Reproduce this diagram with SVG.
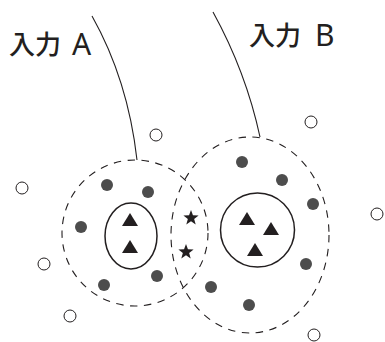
<svg xmlns="http://www.w3.org/2000/svg" xmlns:xlink="http://www.w3.org/1999/xlink" width="385" height="342" viewBox="0 0 385 342">
<style>
.bg{fill:#ffffff}
.dash{fill:none;stroke:#231f20;stroke-width:1.1;stroke-dasharray:7.5 6.5}
.inner{fill:none;stroke:#231f20;stroke-width:1.5}
.dot{fill:#4d4d4d}
.open{fill:#ffffff;stroke:#231f20;stroke-width:1}
.tri{fill:#231f20}
.star{fill:#231f20}
.line{fill:none;stroke:#231f20;stroke-width:1.1}
.lbl{font-family:"Noto Sans CJK JP","Noto Sans",sans-serif;font-size:26px;font-weight:500;fill:#231f20}
.lat{font-family:"Noto Sans","Liberation Sans",sans-serif;font-size:30px;font-weight:400}
</style>
<defs>
<path id="tri" d="M0,0 L8,13 L-8,13 Z"/>
<polygon id="star" points="0,-8 1.94,-2.68 7.61,-2.47 3.15,1.03 4.7,6.47 0,3.3 -4.7,6.47 -3.15,1.03 -7.61,-2.47 -1.94,-2.68"/>
</defs>
<rect class="bg" x="0" y="0" width="385" height="342"/>

<g id="setA">
<circle class="dash" cx="135" cy="233" r="73"/>
</g>
<g id="setB">
<ellipse class="dash" cx="250" cy="235" rx="79" ry="98"/>
</g>

<g id="coreA">
<ellipse class="inner" cx="131" cy="236" rx="26" ry="33"/>
<use href="#tri" class="tri" x="130" y="213"/>
<use href="#tri" class="tri" x="130" y="240"/>
</g>

<g id="coreB">
<circle class="inner" cx="257.5" cy="230" r="37"/>
<use href="#tri" class="tri" x="247" y="212"/>
<use href="#tri" class="tri" x="271" y="222"/>
<use href="#tri" class="tri" x="255" y="243"/>
</g>

<g id="dotsA">
<circle class="dot" cx="107" cy="185" r="6"/>
<circle class="dot" cx="148" cy="192" r="6"/>
<circle class="dot" cx="81" cy="227" r="6"/>
<circle class="dot" cx="104" cy="285" r="6"/>
<circle class="dot" cx="157" cy="276" r="6"/>
</g>

<g id="dotsB">
<circle class="dot" cx="242" cy="162" r="6"/>
<circle class="dot" cx="282" cy="180" r="6"/>
<circle class="dot" cx="313" cy="204" r="6"/>
<circle class="dot" cx="306" cy="264" r="6"/>
<circle class="dot" cx="211" cy="287" r="6"/>
<circle class="dot" cx="249" cy="305" r="6"/>
</g>

<g id="overlap">
<use href="#star" class="star" x="191" y="218"/>
<use href="#star" class="star" x="186" y="252"/>
</g>

<g id="outside">
<circle class="open" cx="156" cy="135" r="6"/>
<circle class="open" cx="311" cy="122" r="6"/>
<circle class="open" cx="22" cy="188" r="6"/>
<circle class="open" cx="44" cy="264" r="6"/>
<circle class="open" cx="70" cy="316" r="6"/>
<circle class="open" cx="377" cy="214" r="6"/>
<circle class="open" cx="314" cy="335" r="6"/>
</g>

<g id="connectors">
<path class="line" d="M92,16 Q128,80 137,160"/>
<path class="line" d="M213,12 Q246,72 260,137"/>
</g>

<g id="labelA">
<text class="lbl" x="9 35" y="54">入力<tspan class="lat" x="72" y="55">A</tspan></text>
</g>
<g id="labelB">
<text class="lbl" x="249 275" y="45">入力<tspan class="lat" x="315" y="46">B</tspan></text>
</g>
</svg>
